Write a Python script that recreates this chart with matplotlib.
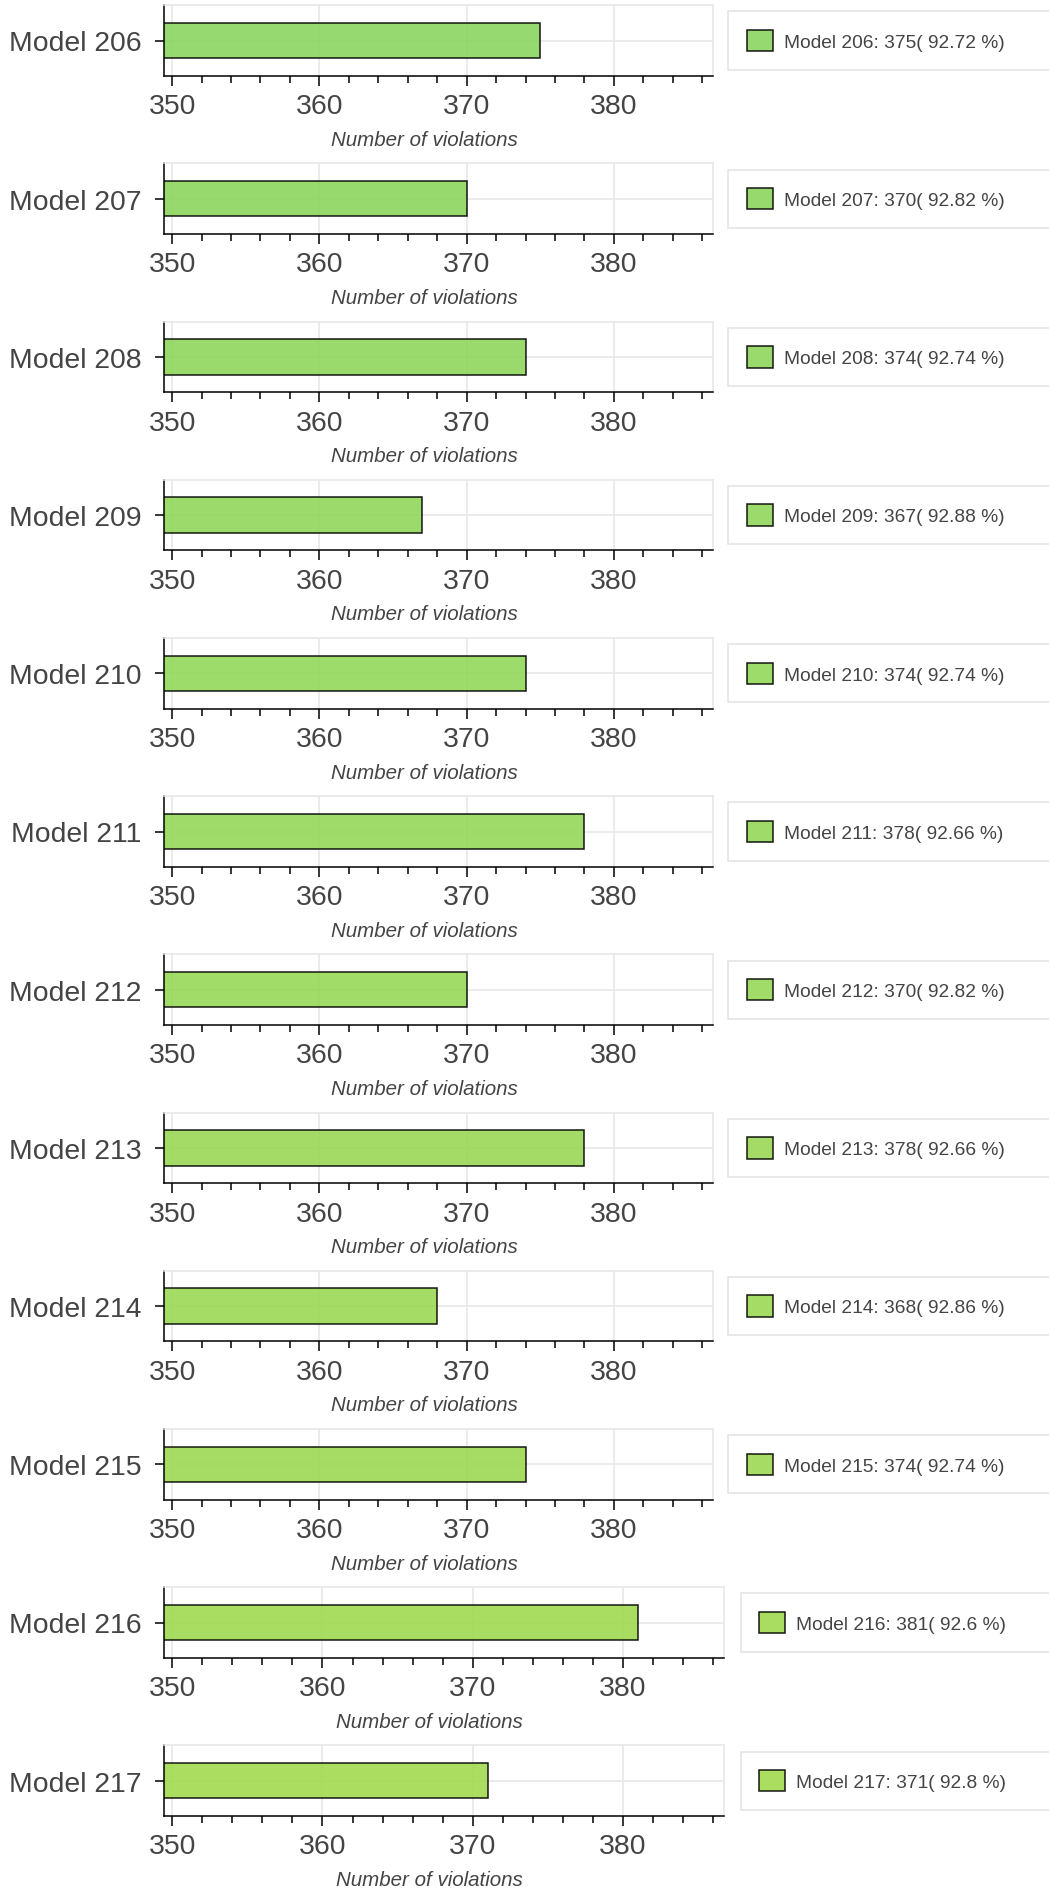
import matplotlib
matplotlib.use("Agg")
import matplotlib.pyplot as plt
from matplotlib.ticker import MultipleLocator

# data
models = ["Model 206", "Model 207", "Model 208", "Model 209", "Model 210", "Model 211",
          "Model 212", "Model 213", "Model 214", "Model 215", "Model 216", "Model 217"]
violations = [375, 370, 374, 367, 374, 378, 370, 378, 368, 374, 381, 371]
percents = [92.72, 92.82, 92.74, 92.88, 92.74, 92.66, 92.82, 92.66, 92.86, 92.74, 92.6, 92.8]
bar_colors = ["#8bd560", "#8dd55e", "#8fd65d", "#91d65b", "#93d75a", "#95d758",
              "#97d857", "#99d855", "#9bd954", "#9dd952", "#9fda51", "#a1da4f"]

plt.rcParams["font.family"] = ["Liberation Sans", "DejaVu Sans"]
TXT = "#444444"
GRID = "#e6e6e6"

W, H = 1049, 1890  # pixels, dpi 100
fig = plt.figure(figsize=(W / 100, H / 100), dpi=100)

step, first = 158.2, 41.5      # row spacing / first bar centre (px from top)
ax_h = 70.6
for i, (name, v, p, c) in enumerate(zip(models, violations, percents, bar_colors)):
    yc = first + step * i
    right = 712.6 if i < 10 else 723.5
    leg_x = 728.3 if i < 10 else 740.7
    ax = fig.add_axes([164 / W, 1 - (yc + ax_h / 2) / H, (right - 164) / W, ax_h / H])

    ax.barh([0], [v], height=0.8, color=c, alpha=0.9, edgecolor="black", linewidth=1.1,
            label=f"{name}: {v}( {p} %)")
    ax.set_xlim(349.45, 386.7)
    ax.set_ylim(-0.8, 0.8)
    ax.set_yticks([0])
    ax.set_yticklabels([name])
    ax.xaxis.set_major_locator(MultipleLocator(10))
    ax.xaxis.set_minor_locator(MultipleLocator(2))
    ax.set_axisbelow(True)
    ax.grid(True, which="major", color=GRID, linewidth=1.1)

    for s in ("left", "bottom"):
        ax.spines[s].set_color("black"); ax.spines[s].set_linewidth(1.1)
    for s in ("top", "right"):
        ax.spines[s].set_color(GRID); ax.spines[s].set_linewidth(1.1)

    ax.tick_params(axis="x", which="major", length=7, width=1.1, pad=5.5,
                   labelsize=20.4, labelcolor=TXT)
    ax.tick_params(axis="x", which="minor", length=5, width=1.1)
    ax.tick_params(axis="y", length=6.5, width=1.1, pad=9.5, labelsize=20.4, labelcolor=TXT)

    ax.set_xlabel("Number of violations", fontsize=14.8, style="italic", color=TXT)
    ax.xaxis.label.set_va("center")
    ax.xaxis.set_label_coords(0.474, -63.5 / ax_h)

    leg_h = 62.7
    leg = ax.legend(loc="center left",
                    bbox_to_anchor=(leg_x / W, 1 - (yc + leg_h / 2) / H, 400 / W, leg_h / H),
                    bbox_transform=fig.transFigure, mode="expand", borderaxespad=0,
                    borderpad=0.957, handlelength=1.356, handleheight=1.356,
                    handletextpad=0.574, fontsize=13.8, fancybox=False,
                    edgecolor="#e3e3e3", labelcolor=TXT, framealpha=1)
    leg.get_frame().set_linewidth(1.1)

fig.savefig("out.png", dpi=100)
